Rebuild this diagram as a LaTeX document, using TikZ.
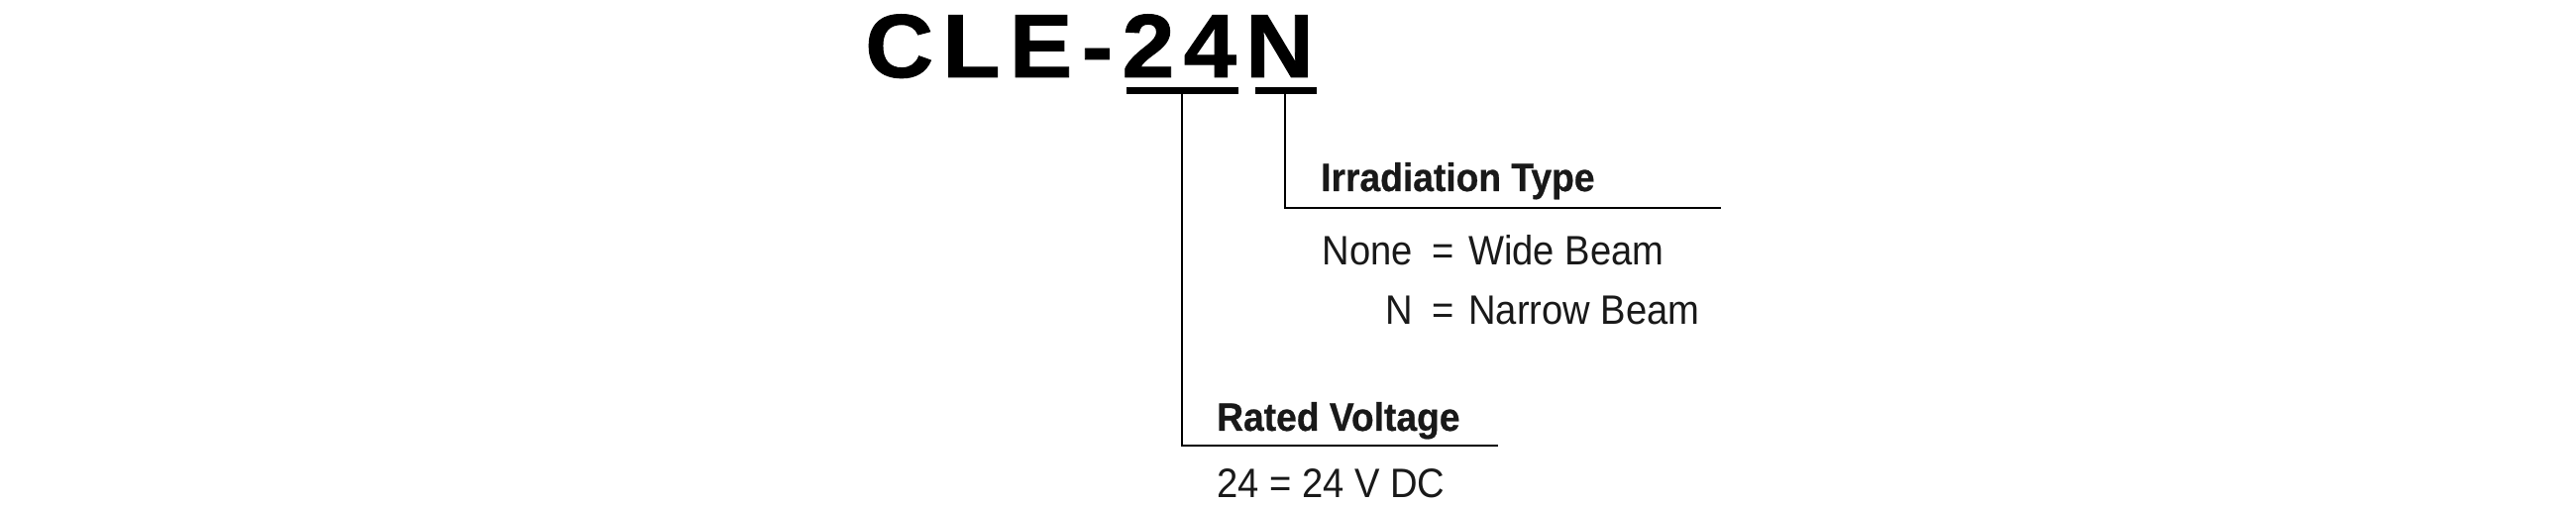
\documentclass[tikz,border=0pt]{standalone}
\usepackage{fontspec}
\setmainfont{Liberation Sans}
\newfontfamily\titlefont[LetterSpace=10,FakeStretch=1.05,FakeBold=1]{Liberation Sans Bold}
\newfontfamily\labfont[FakeStretch=0.92]{Liberation Sans}
\newfontfamily\labbold[FakeStretch=0.93,FakeBold=0.6]{Liberation Sans Bold}
\begin{document}
\begin{tikzpicture}[x=1pt,y=-1pt,
  lab/.style={anchor=base west,inner sep=0,font=\labfont\fontsize{41.5}{44}\selectfont,text=black!90},
  head/.style={anchor=base west,inner sep=0,font=\labbold\fontsize{40}{44}\selectfont,text=black!90},
  bar/.style={line width=7pt},
  lead/.style={line width=1.5pt}]
\useasboundingbox (0,0) rectangle (2600,510);
\node[anchor=base west,inner sep=0,font=\titlefont\fontsize{91}{95}\selectfont] (t) at (873,78) {CLE-24N};
\coordinate (b1l) at (1137,92); \coordinate (b1r) at (1250,92);
\coordinate (b2l) at (1267,92); \coordinate (b2r) at (1329,92);
\draw[bar] (b1l) -- (b1r);
\draw[bar] (b2l) -- (b2r);
\coordinate (v1) at (1193,95); \coordinate (c1) at (1193,450); \coordinate (e1) at (1512,450);
\coordinate (v2) at (1297,95); \coordinate (c2) at (1297,210); \coordinate (e2) at (1737,210);
\draw[lead] (v1) -- (c1) -- (e1);
\draw[lead] (v2) -- (c2) -- (e2);
\node[head] (it) at (1333,193) {Irradiation Type};
\node[lab,anchor=base east] (none) at (1426,268) {None};
\node[lab] (eq1) at (1445,268) {=};
\node[lab] (wb) at (1482,268) {Wide Beam};
\node[lab,anchor=base east] (n) at (1426,328) {N};
\node[lab] (eq2) at (1445,328) {=};
\node[lab] (nb) at (1482,328) {Narrow Beam};
\node[head] (rv) at (1228,435) {Rated Voltage};
\node[lab] (v) at (1228,502) {24 = 24 V DC};
\end{tikzpicture}
\end{document}
